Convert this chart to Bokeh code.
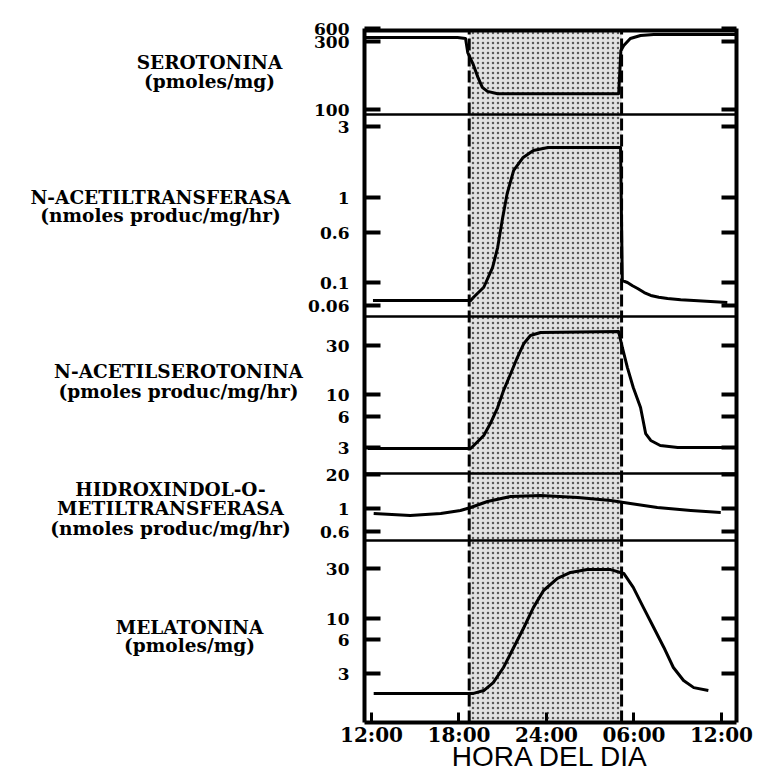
import numpy as np
from bokeh.plotting import figure
from bokeh.layouts import row
from bokeh.models import Range1d, FixedTicker, LinearAxis, Span, BoxAnnotation
from bokeh.core.properties import value
from bokeh.embed import file_html
from bokeh.resources import INLINE

# ---------------- data ----------------
time_ticks = [12, 18, 24, 30, 36]
time_labels = ["12:00", "18:00", "24:00", "06:00", "12:00"]
night_start = 18.7
night_end = 29.15

# Serotonina (pmoles/mg)
sero_t = [11.5, 17.9, 18.45, 18.6, 18.95, 19.3, 19.6, 19.95, 20.65, 28.95, 29.1, 29.3, 29.75, 30.45, 31.35, 37.0]
sero_v = [372, 372, 352, 251, 210, 168, 143, 134, 129, 129, 259, 281, 352, 413, 435, 435]

# N-acetiltransferasa (nmoles produc/mg/hr)
nat_t = [12.1, 18.8, 19.0, 19.7, 20.3, 20.65, 21.0, 21.3, 21.75, 22.4, 23.1, 24.1, 29.08, 29.2, 29.55,
         29.9, 30.25, 30.7, 31.15, 31.7, 32.3, 33.2, 34.1, 36.4]
nat_v = [0.067, 0.067, 0.072, 0.09, 0.17, 0.35, 0.75, 1.06, 1.52, 1.86, 2.07, 2.17, 2.17, 0.107, 0.1,
         0.093, 0.0875, 0.08, 0.075, 0.072, 0.07, 0.068, 0.067, 0.064]

# N-acetilserotonina (pmoles produc/mg/hr)
nas_t = [11.75, 18.8, 19.15, 19.7, 20.15, 20.65, 21.05, 21.55, 22.0, 22.45, 22.9, 23.6, 28.95, 29.2, 29.55,
         29.95, 30.45, 30.8, 31.15, 31.8, 33.0, 36.4]
nas_v = [2.93, 2.93, 3.28, 3.92, 5.13, 7.39, 10.9, 16.0, 22.9, 31.4, 37.5, 40.1, 41.0, 28.7, 18.3,
         11.7, 7.39, 4.1, 3.51, 3.14, 3.0, 3.0]

# Hidroxindol-O-metiltransferasa (nmoles produc/mg/hr)
hiomt_t = [12.15, 14.65, 16.75, 18.1, 18.8, 19.95, 21.55, 23.6, 26.15, 28.4, 29.75, 31.6, 33.9, 35.95]
hiomt_v = [0.895, 0.856, 0.895, 0.957, 1.09, 1.85, 2.88, 3.15, 2.64, 2.02, 1.55, 1.09, 0.957, 0.915]

# Melatonina (pmoles/mg)
mel_t = [12.15, 19.0, 19.7, 20.35, 21.05, 21.75, 22.45, 23.1, 23.8, 24.75, 25.65, 26.8, 28.4, 29.3, 29.95,
         30.65, 31.35, 32.05, 32.7, 33.4, 34.1, 35.1]
mel_v = [2.0, 2.0, 2.12, 2.49, 3.39, 5.1, 8.03, 12.7, 18.5, 24.1, 27.5, 29.3, 29.3, 26.9, 19.8,
         12.7, 8.03, 5.1, 3.39, 2.6, 2.25, 2.12]

# tick values of each panel's (schematic) log axis
sero_ticks = [600, 300, 100]
nat_ticks = [3, 1, 0.6, 0.1, 0.06]
nas_ticks = [30, 10, 6, 3]
hiomt_ticks = [20, 1, 0.6]
mel_ticks = [30, 10, 6, 3]

titles = [
    ["SEROTONINA", "(pmoles/mg)"],
    ["N-ACETILTRANSFERASA", "(nmoles produc/mg/hr)"],
    ["N-ACETILSEROTONINA", "(pmoles produc/mg/hr)"],
    ["HIDROXINDOL-O-", "METILTRANSFERASA", "(nmoles produc/mg/hr)"],
    ["MELATONINA", "(pmoles/mg)"],
]
x_title = "HORA DEL DIA"

# ---------------- layout ----------------
W, H = 758, 774
TW = 305                 # width of the title column
FL, FR, FT, FB = 364, 736, 24, 722          # frame edges in page pixels
BORDER_TOP = 30                              # drawn top border row
X0, X1 = 11.52, 37.03

def ypos(px):            # page pixel row -> y data units
    return FB - px

# tick rows (page pixels) for each panel's tick values
sero_rows = [28, 41, 109]
nat_rows = [126, 197, 232, 282, 305]
nas_rows = [345, 394, 416, 447]
hiomt_rows = [474, 508, 531]
mel_rows = [568, 618, 639, 673]
separator_rows = [114, 316, 473, 540]

def place(values, tvals, rows):
    """schematic log axis: piecewise log interpolation between labelled ticks"""
    lt = np.log10(np.array(tvals, float))
    p = np.array([ypos(r) for r in rows], float)
    o = np.argsort(lt)
    lt, p = lt[o], p[o]
    lv = np.log10(np.array(values, float))
    out = np.interp(lv, lt, p)
    lo, hi = lv < lt[0], lv > lt[-1]
    out[lo] = p[0] + (lv[lo] - lt[0]) * (p[1] - p[0]) / (lt[1] - lt[0])
    out[hi] = p[-1] + (lv[hi] - lt[-1]) * (p[-1] - p[-2]) / (lt[-1] - lt[-2])
    return out

yr = Range1d(0, FB - FT)

# ---- main plot ----
p = figure(width=W - TW, height=H, x_range=Range1d(X0, X1), y_range=yr,
           output_backend="svg", toolbar_location=None,
           min_border_left=FL - TW, min_border_right=W - FR, min_border_top=FT,
           min_border_bottom=H - FB)
p.xgrid.visible = False
p.ygrid.visible = False
p.outline_line_color = None
p.background_fill_color = "white"
p.border_fill_color = "white"

top = ypos(BORDER_TOP)

# night shading
p.add_layout(BoxAnnotation(left=night_start, right=night_end, top=top, fill_color="#e2e2e2", fill_alpha=1.0,
                           hatch_pattern="dot", hatch_color="black", hatch_alpha=0.6,
                           hatch_scale=5, hatch_weight=1.4, line_color=None, level="underlay"))

# y ticks
tick_pos, tick_lab = [], []
for vals, rows in [(sero_ticks, sero_rows), (nat_ticks, nat_rows), (nas_ticks, nas_rows),
                   (hiomt_ticks, hiomt_rows), (mel_ticks, mel_rows)]:
    for v, r in zip(vals, rows):
        tick_pos.append(float(ypos(r)))
        tick_lab.append(f"{v:g}")
axis_top = max(tick_pos)

ya = p.yaxis[0]
ya.ticker = FixedTicker(ticks=tick_pos, minor_ticks=[])
ya.major_label_overrides = {k: s for k, s in zip(tick_pos, tick_lab)}
ya.bounds = (0, axis_top)
ya.major_tick_in = 16
ya.major_tick_out = 0
ya.major_tick_line_width = 4
ya.minor_tick_line_color = None
ya.axis_line_width = 4
ya.major_label_standoff = 15
ya.major_label_text_font = "DejaVu Serif"
ya.major_label_text_font_style = "bold"
ya.major_label_text_font_size = "17px"
ya.major_label_text_color = "black"

ra = LinearAxis(ticker=FixedTicker(ticks=tick_pos, minor_ticks=[]), bounds=(0, axis_top))
ra.major_tick_in = 15
ra.major_tick_out = 0
ra.major_tick_line_width = 4
ra.minor_tick_line_color = None
ra.axis_line_width = 4
ra.major_label_text_color = None
p.add_layout(ra, "right")

xa = p.xaxis[0]
xa.ticker = FixedTicker(ticks=time_ticks, minor_ticks=[])
xa.major_label_overrides = {t: s for t, s in zip(time_ticks, time_labels)}
xa.major_tick_in = 10
xa.major_tick_out = 0
xa.major_tick_line_width = 3
xa.minor_tick_line_color = None
xa.axis_line_width = 4
xa.major_label_standoff = 0
xa.major_label_text_font = "DejaVu Serif"
xa.major_label_text_font_style = "bold"
xa.major_label_text_font_size = "20px"
xa.major_label_text_color = "black"
xa.axis_label = x_title
xa.axis_label_text_font = "Liberation Sans"
xa.axis_label_text_font_style = "normal"
xa.axis_label_text_font_size = "28px"
xa.axis_label_text_color = "black"
xa.axis_label_standoff = -9

# top border and separators between panels
p.add_layout(Span(location=top, dimension="width", line_color="black", line_width=4))
for r in separator_rows:
    p.add_layout(Span(location=ypos(r), dimension="width", line_color="black", line_width=2.5))

# night boundaries (dashed)
p.segment(x0=[night_start, night_end], y0=[0, 0], x1=[night_start, night_end], y1=[top, top],
          line_color="black", line_width=3, line_dash="12 4")

# curves
series = [(sero_t, sero_v, sero_ticks, sero_rows), (nat_t, nat_v, nat_ticks, nat_rows),
          (nas_t, nas_v, nas_ticks, nas_rows), (hiomt_t, hiomt_v, hiomt_ticks, hiomt_rows),
          (mel_t, mel_v, mel_ticks, mel_rows)]
for t, v, tv, rows in series:
    p.line(t, place(v, tv, rows), line_color="black", line_width=3, line_join="round")

# ---- title column (left), frame aligned with the main plot ----
tf = figure(width=TW, height=H, x_range=Range1d(0, TW), y_range=yr,
            output_backend="svg", toolbar_location=None,
            min_border_left=0, min_border_right=0, min_border_top=FT, min_border_bottom=H - FB,
            x_axis_location=None, y_axis_location=None)
tf.outline_line_color = None
tf.grid.visible = False
title_centers = [(209, [62, 81]), (160, [197, 215]), (178, [371, 391]),
                 (170, [489, 508, 528]), (189, [627, 645])]
tx, ty, tt = [], [], []
for lines, (cx, rows) in zip(titles, title_centers):
    for txt, r in zip(lines, rows):
        tx.append(cx)
        ty.append(ypos(r))
        tt.append(txt)
tf.text(x=tx, y=ty, text=tt, text_align="center", text_baseline="middle",
        text_font=value("DejaVu Serif"), text_font_style="bold", text_font_size="18.5px",
        text_color="black")

layout = row(tf, p, spacing=0)
open("out.html", "w").write(file_html(layout, INLINE))
